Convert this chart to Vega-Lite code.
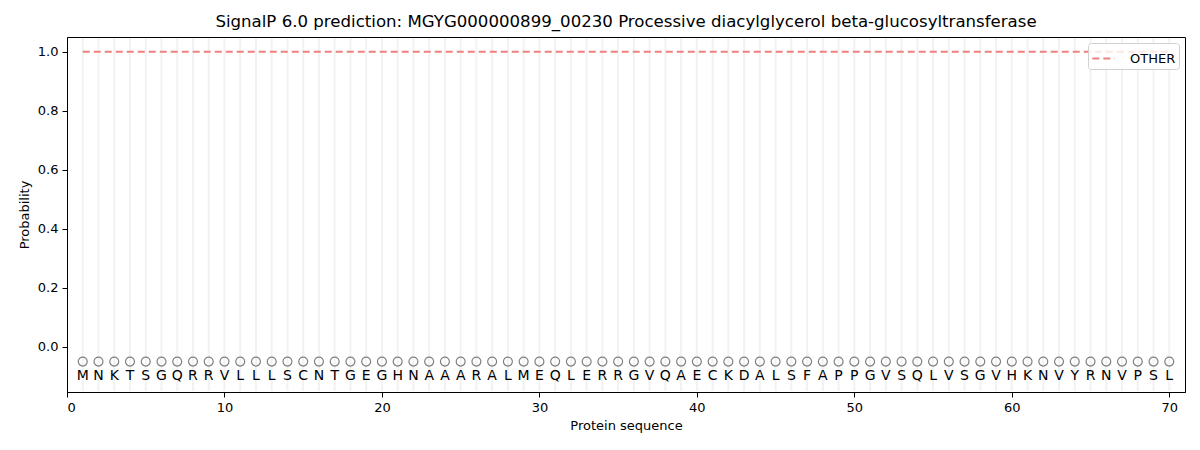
{
  "$schema": "https://vega.github.io/schema/vega-lite/v6.json",
  "autosize": {"type": "none"},
  "width": 1118,
  "height": 355,
  "padding": {"left": 67, "top": 37, "right": 15, "bottom": 58},
  "background": "white",
  "title": {
    "text": "SignalP 6.0 prediction: MGYG000000899_00230 Processive diacylglycerol beta-glucosyltransferase",
    "fontSize": 16.6,
    "fontWeight": "normal",
    "font": "DejaVu Sans",
    "color": "black",
    "offset": 6
  },
  "data": {
    "values": [
      {"pos": 1, "aa": "M", "other": 1.0}, {"pos": 2, "aa": "N", "other": 1.0},
      {"pos": 3, "aa": "K", "other": 1.0}, {"pos": 4, "aa": "T", "other": 1.0},
      {"pos": 5, "aa": "S", "other": 1.0}, {"pos": 6, "aa": "G", "other": 1.0},
      {"pos": 7, "aa": "Q", "other": 1.0}, {"pos": 8, "aa": "R", "other": 1.0},
      {"pos": 9, "aa": "R", "other": 1.0}, {"pos": 10, "aa": "V", "other": 1.0},
      {"pos": 11, "aa": "L", "other": 1.0}, {"pos": 12, "aa": "L", "other": 1.0},
      {"pos": 13, "aa": "L", "other": 1.0}, {"pos": 14, "aa": "S", "other": 1.0},
      {"pos": 15, "aa": "C", "other": 1.0}, {"pos": 16, "aa": "N", "other": 1.0},
      {"pos": 17, "aa": "T", "other": 1.0}, {"pos": 18, "aa": "G", "other": 1.0},
      {"pos": 19, "aa": "E", "other": 1.0}, {"pos": 20, "aa": "G", "other": 1.0},
      {"pos": 21, "aa": "H", "other": 1.0}, {"pos": 22, "aa": "N", "other": 1.0},
      {"pos": 23, "aa": "A", "other": 1.0}, {"pos": 24, "aa": "A", "other": 1.0},
      {"pos": 25, "aa": "A", "other": 1.0}, {"pos": 26, "aa": "R", "other": 1.0},
      {"pos": 27, "aa": "A", "other": 1.0}, {"pos": 28, "aa": "L", "other": 1.0},
      {"pos": 29, "aa": "M", "other": 1.0}, {"pos": 30, "aa": "E", "other": 1.0},
      {"pos": 31, "aa": "Q", "other": 1.0}, {"pos": 32, "aa": "L", "other": 1.0},
      {"pos": 33, "aa": "E", "other": 1.0}, {"pos": 34, "aa": "R", "other": 1.0},
      {"pos": 35, "aa": "R", "other": 1.0}, {"pos": 36, "aa": "G", "other": 1.0},
      {"pos": 37, "aa": "V", "other": 1.0}, {"pos": 38, "aa": "Q", "other": 1.0},
      {"pos": 39, "aa": "A", "other": 1.0}, {"pos": 40, "aa": "E", "other": 1.0},
      {"pos": 41, "aa": "C", "other": 1.0}, {"pos": 42, "aa": "K", "other": 1.0},
      {"pos": 43, "aa": "D", "other": 1.0}, {"pos": 44, "aa": "A", "other": 1.0},
      {"pos": 45, "aa": "L", "other": 1.0}, {"pos": 46, "aa": "S", "other": 1.0},
      {"pos": 47, "aa": "F", "other": 1.0}, {"pos": 48, "aa": "A", "other": 1.0},
      {"pos": 49, "aa": "P", "other": 1.0}, {"pos": 50, "aa": "P", "other": 1.0},
      {"pos": 51, "aa": "G", "other": 1.0}, {"pos": 52, "aa": "V", "other": 1.0},
      {"pos": 53, "aa": "S", "other": 1.0}, {"pos": 54, "aa": "Q", "other": 1.0},
      {"pos": 55, "aa": "L", "other": 1.0}, {"pos": 56, "aa": "V", "other": 1.0},
      {"pos": 57, "aa": "S", "other": 1.0}, {"pos": 58, "aa": "G", "other": 1.0},
      {"pos": 59, "aa": "V", "other": 1.0}, {"pos": 60, "aa": "H", "other": 1.0},
      {"pos": 61, "aa": "K", "other": 1.0}, {"pos": 62, "aa": "N", "other": 1.0},
      {"pos": 63, "aa": "V", "other": 1.0}, {"pos": 64, "aa": "Y", "other": 1.0},
      {"pos": 65, "aa": "R", "other": 1.0}, {"pos": 66, "aa": "N", "other": 1.0},
      {"pos": 67, "aa": "V", "other": 1.0}, {"pos": 68, "aa": "P", "other": 1.0},
      {"pos": 69, "aa": "S", "other": 1.0}, {"pos": 70, "aa": "L", "other": 1.0}
    ]
  },
  "encoding": {
    "x": {
      "field": "pos",
      "type": "quantitative",
      "scale": {"domain": [0, 71], "nice": false, "zero": false},
      "axis": {"title": "Protein sequence", "values": [0, 10, 20, 30, 40, 50, 60, 70], "grid": false}
    }
  },
  "layer": [
    {
      "mark": {"type": "rule", "color": "#f2f2f2", "strokeWidth": 2},
      "encoding": {
        "y": {"datum": -0.15, "type": "quantitative"},
        "y2": {"datum": 1.047}
      }
    },
    {
      "mark": {"type": "line", "strokeDash": [7, 4], "strokeWidth": 2},
      "encoding": {
        "y": {
          "field": "other",
          "type": "quantitative",
          "scale": {"domain": [-0.153, 1.05], "nice": false, "zero": false},
          "axis": {"title": "Probability", "values": [0, 0.2, 0.4, 0.6, 0.8, 1.0], "format": ".1f", "grid": false, "titlePadding": 6}
        },
        "color": {
          "datum": "OTHER",
          "type": "nominal",
          "scale": {"range": ["#f08080"]},
          "legend": {"title": null, "symbolType": "stroke", "symbolStrokeWidth": 2, "symbolDash": [7, 4]}
        }
      }
    },
    {
      "mark": {"type": "point", "shape": "circle", "filled": false, "color": "#808080", "opacity": 1, "size": 80, "strokeWidth": 1.2},
      "encoding": {"y": {"datum": -0.05, "type": "quantitative"}}
    },
    {
      "mark": {"type": "text", "fontSize": 14, "font": "DejaVu Sans", "color": "black", "baseline": "middle"},
      "encoding": {
        "y": {"datum": -0.1, "type": "quantitative"},
        "text": {"field": "aa"}
      }
    }
  ],
  "config": {
    "font": "DejaVu Sans",
    "view": {"stroke": "black", "strokeWidth": 1},
    "axis": {
      "labelFontSize": 13,
      "titleFontSize": 13,
      "titleFontWeight": "normal",
      "labelColor": "black",
      "titleColor": "black",
      "domainColor": "black",
      "tickColor": "black",
      "tickSize": 5,
      "labelPadding": 4,
      "titlePadding": 5
    },
    "legend": {
      "orient": "top-right",
      "offset": 6,
      "labelFontSize": 13,
      "labelColor": "black",
      "strokeColor": "#d0d0d0",
      "fillColor": "rgba(255,255,255,0.8)",
      "cornerRadius": 3,
      "padding": 3,
      "symbolSize": 500,
      "labelOffset": 14
    }
  }
}
